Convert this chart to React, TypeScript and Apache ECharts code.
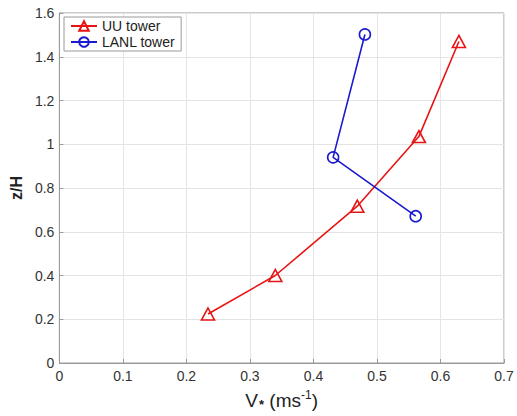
import React, { useEffect, useRef } from "react";
import * as echarts from "echarts";

const uuX = [0.234, 0.34, 0.469, 0.566, 0.629];
const uuY = [0.224, 0.4, 0.717, 1.035, 1.47];
const lanlX = [0.481, 0.431, 0.561];
const lanlY = [1.502, 0.94, 0.671];
const xTicks = { min: 0, max: 0.7, interval: 0.1 };
const yTicks = { min: 0, max: 1.6, interval: 0.2 };

const RED = "#e81414";
const BLUE = "#1a1ad0";
const FONT = "Liberation Sans, Arial, sans-serif";

export default function App() {
  const ref = useRef<HTMLDivElement>(null);
  useEffect(() => {
    document.body.style.margin = "0";
    if (!ref.current) return;
    const chart = echarts.init(ref.current, undefined, { renderer: "svg" });
    const fmt = (v: number) => {
      const r = Math.round(v * 10) / 10;
      return String(r);
    };
    chart.setOption({
      animation: false,
      backgroundColor: "#fff",
      textStyle: { fontFamily: FONT },
      grid: {
        left: 59,
        right: 13,
        top: 13,
        bottom: 52,
        show: true,
        borderColor: "#9a9a9a",
        borderWidth: 1,
      },
      legend: {
        show: true,
        left: 64,
        top: 17,
        orient: "vertical",
        itemGap: 2,
        itemWidth: 26,
        itemHeight: 12,
        padding: [2, 6, 2, 6],
        borderColor: "#9a9a9a",
        borderWidth: 1,
        backgroundColor: "#fff",
        textStyle: { fontFamily: FONT, fontSize: 14, color: "#222" },
        data: ["UU tower", "LANL tower"],
      },
      xAxis: {
        type: "value",
        min: xTicks.min,
        max: xTicks.max,
        interval: xTicks.interval,
        axisLine: { show: true, lineStyle: { color: "#9a9a9a" } },
        axisTick: { show: true, inside: true, length: 4, lineStyle: { color: "#9a9a9a" } },
        axisLabel: { fontSize: 14, color: "#333", margin: 6, formatter: fmt },
        splitLine: { show: true, lineStyle: { color: "#e4e4e4", width: 1 } },
        name: "{v|V}{s|*}{t| (ms}{p|-1}{t|)}",
        nameLocation: "middle",
        nameGap: 26,
        nameTextStyle: {
          rich: {
            v: { fontSize: 19, color: "#222", fontFamily: FONT },
            s: { fontSize: 13, fontWeight: "bold", color: "#222", fontFamily: FONT, verticalAlign: "bottom", padding: [9, 0, 0, 1] },
            t: { fontSize: 19, color: "#222", fontFamily: FONT },
            p: { fontSize: 12, color: "#222", fontFamily: FONT, verticalAlign: "top", padding: [0, 0, 8, 0] },
          },
        },
      },
      yAxis: {
        type: "value",
        min: yTicks.min,
        max: yTicks.max,
        interval: yTicks.interval,
        axisLine: { show: true, lineStyle: { color: "#9a9a9a" } },
        axisTick: { show: true, inside: true, length: 4, lineStyle: { color: "#9a9a9a" } },
        axisLabel: { fontSize: 14, color: "#333", margin: 5, formatter: fmt },
        splitLine: { show: true, lineStyle: { color: "#e4e4e4", width: 1 } },
        name: "z/H",
        nameLocation: "middle",
        nameGap: 32,
        nameTextStyle: { fontSize: 16, fontWeight: "bold", color: "#222", fontFamily: FONT },
      },
      series: [
        {
          name: "UU tower",
          type: "line",
          data: uuX.map((x, i) => [x, uuY[i]]),
          symbol: "triangle",
          symbolSize: [13, 12],
          lineStyle: { color: RED, width: 1.6 },
          itemStyle: { color: "rgba(255,255,255,0)", borderColor: RED, borderWidth: 1.6 },
          z: 3,
        },
        {
          name: "LANL tower",
          type: "line",
          data: lanlX.map((x, i) => [x, lanlY[i]]),
          symbol: "circle",
          symbolSize: 11,
          lineStyle: { color: BLUE, width: 1.6 },
          itemStyle: { color: "rgba(255,255,255,0)", borderColor: BLUE, borderWidth: 1.6 },
          z: 3,
        },
      ],
    });
    return () => chart.dispose();
  }, []);
  return <div ref={ref} style={{ width: 517, height: 416 }} />;
}
